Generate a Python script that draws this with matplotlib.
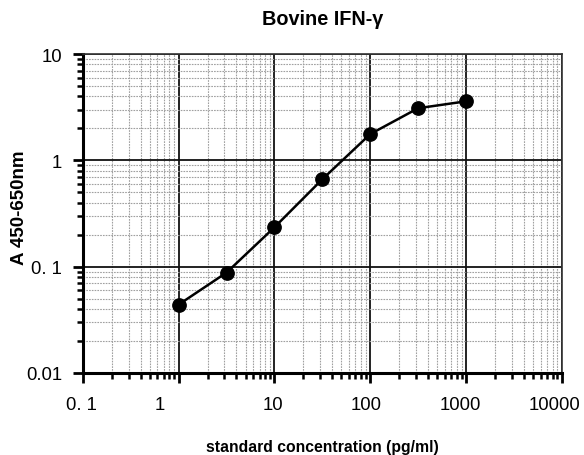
import matplotlib
matplotlib.use("Agg")
import matplotlib.pyplot as plt
from matplotlib.ticker import LogLocator, FixedLocator, NullFormatter, FixedFormatter

conc = [1.0, 3.16, 10.0, 31.6, 100.0, 316.0, 1000.0]
absorb = [0.044, 0.088, 0.235, 0.665, 1.77, 3.1, 3.6]
xticks = [0.1, 1, 10, 100, 1000, 10000]
xticklabels = ["0. 1", "1", "10", "100", "1000", "10000"]
yticks = [0.01, 0.1, 1, 10]
yticklabels = ["0.01", "0. 1", "1", "10"]

# horizontal nudges (points) of the x labels, as placed in the original
x_label_shift = [-1.4, -13.7, -1.4, -2.9, -4.3, -5.0]

plt.rcParams['font.family'] = ['Liberation Sans', 'DejaVu Sans']

fig = plt.figure(figsize=(5.84, 4.56), dpi=100)
ax = fig.add_axes([0.142, 0.180, 0.820, 0.699])
ax.set_xscale('log')
ax.set_yscale('log')
ax.set_xlim(0.1, 10000)
ax.set_ylim(0.01, 10)

ax.xaxis.set_major_locator(FixedLocator(xticks))
ax.xaxis.set_major_formatter(NullFormatter())
ax.yaxis.set_major_locator(FixedLocator(yticks))
ax.yaxis.set_major_formatter(FixedFormatter(yticklabels))
ax.xaxis.set_minor_locator(LogLocator(base=10, subs=range(2, 10), numticks=20))
ax.yaxis.set_minor_locator(LogLocator(base=10, subs=range(2, 10), numticks=20))
ax.xaxis.set_minor_formatter(NullFormatter())
ax.yaxis.set_minor_formatter(NullFormatter())

ax.grid(True, which='minor', color='#a0a0a0', linestyle=(0, (1.5, 1)), linewidth=0.8)
ax.grid(True, which='major', color='#111111', linestyle='-', linewidth=1.3)
ax.set_axisbelow(True)

for s in ['left', 'bottom']:
    ax.spines[s].set_linewidth(2.2)
    ax.spines[s].set_color('black')
for s in ['top', 'right']:
    ax.spines[s].set_linewidth(1.2)
    ax.spines[s].set_color('#333333')

ax.tick_params(axis='both', which='major', direction='out', length=7, width=2, labelsize=13.3, top=False, right=False)
ax.tick_params(axis='y', which='major', pad=8)
ax.tick_params(axis='both', which='minor', direction='out', length=4, width=1.8, top=False, right=False)

for xv, lab, dx in zip(xticks, xticklabels, x_label_shift):
    ax.annotate(lab, xy=(xv, 0), xycoords=('data', 'axes fraction'), xytext=(dx, -16.5),
                textcoords='offset points', ha='center', va='top', fontsize=13.3)

ax.plot(conc, absorb, color='black', linewidth=1.8, marker='o', markersize=9.6, zorder=5, clip_on=False)

ax.set_title("Bovine IFN-\u03b3", fontsize=14.3, fontweight='bold', pad=22)
ax.set_xlabel("standard concentration (pg/ml)", fontsize=11.3, fontweight='bold', va='top')
ax.xaxis.set_label_coords(0.5, -0.207)
ax.set_ylabel("A 450-650nm", fontsize=13.5, fontweight='bold', va='bottom')
ax.yaxis.set_label_coords(-0.115, 0.52)

fig.savefig("out.png", dpi=100)
